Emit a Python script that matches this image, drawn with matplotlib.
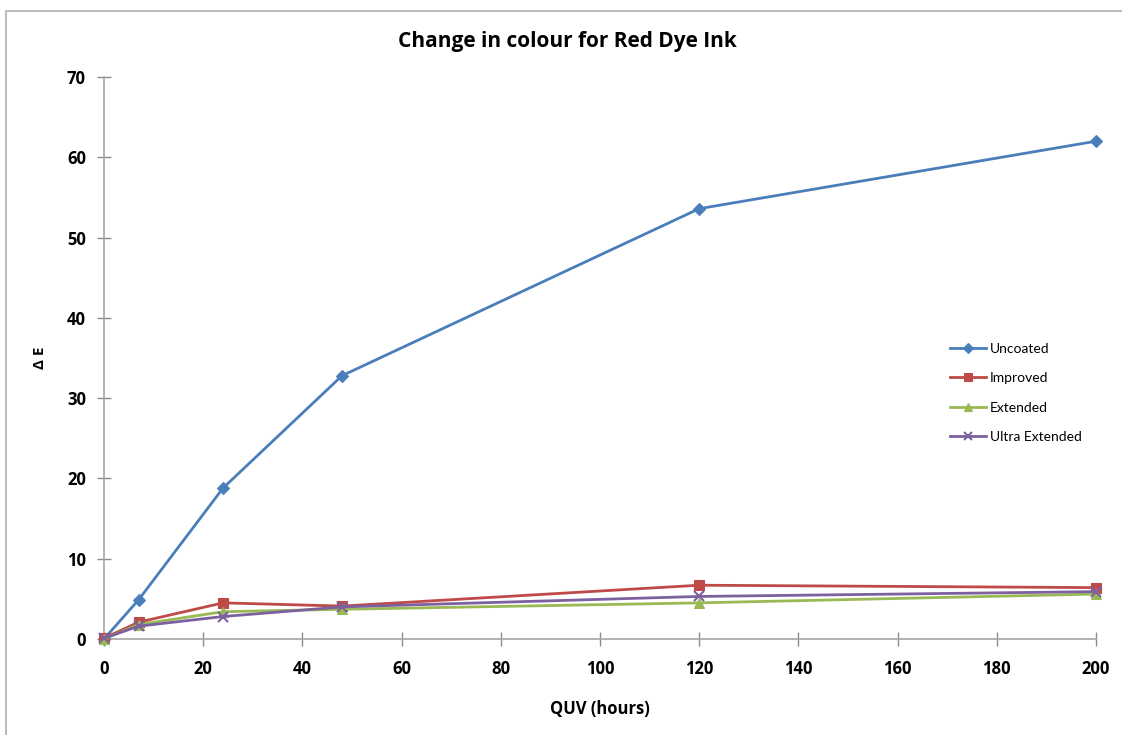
import matplotlib.pyplot as plt
from matplotlib.patches import Rectangle

plt.rcParams['font.family'] = ['Open Sans', 'DejaVu Sans']

# QUV exposure time in hours and colour change for each coating
hours = [0, 7, 24, 48, 120, 200]
uncoated = [0.0, 4.9, 18.8, 32.8, 53.6, 62.0]
improved = [0.1, 2.1, 4.5, 4.1, 6.7, 6.4]
extended = [0.0, 1.8, 3.4, 3.7, 4.5, 5.6]
ultra_extended = [0.1, 1.6, 2.8, 4.0, 5.3, 5.9]

series = [
    ("Uncoated", uncoated, "#4a7ebb", "D", 6),
    ("Improved", improved, "#be4b48", "s", 7),
    ("Extended", extended, "#98b954", "^", 7),
    ("Ultra Extended", ultra_extended, "#7d60a0", "x", 7),
]

fig = plt.figure(figsize=(11.22, 7.35), dpi=100)
ax = fig.add_axes([104 / 1122, 96 / 735, 992 / 1122, 562 / 735])

for name, vals, col, mk, ms in series:
    ax.plot(hours, vals, color=col, lw=2.0, marker=mk, ms=ms,
            mew=1.5 if mk == "x" else 0.8, mec=col, mfc=col,
            label=name, clip_on=False, zorder=3)

ax.set_xlim(0, 200)
ax.set_ylim(0, 70)
ax.set_xticks(range(0, 201, 20))
ax.set_yticks(range(0, 71, 10))

for s in ("top", "right"):
    ax.spines[s].set_visible(False)
for s in ("left", "bottom"):
    ax.spines[s].set_color("#a6a6a6")
    ax.spines[s].set_linewidth(1.2)

ax.tick_params(direction="inout", length=10, width=1.0, color="#8c8c8c",
               labelsize=12, pad=8)
ax.tick_params(axis="x", pad=10)
for lab in ax.get_xticklabels() + ax.get_yticklabels():
    lab.set_fontweight("bold")

ax.set_xlabel("QUV (hours)", fontsize=12, fontweight="bold", labelpad=16)
ax.set_ylabel("Δ E", fontsize=11, fontweight="bold", labelpad=14)
fig.text(567 / 1122, 1 - 42 / 735, "Change in colour for Red Dye Ink",
         ha="center", va="center", fontsize=15, fontweight="bold")

leg = ax.legend(loc="center left", bbox_to_anchor=(833 / 992, 0.438),
                frameon=False, handlelength=2.6,
                labelspacing=1.25, handletextpad=0.3, markerscale=0.8,
                prop={"family": ["Lato", "DejaVu Sans"], "size": 10})

# chart border
fig.patches.append(Rectangle((6 / 1122, -0.05), 1.1, 1.05 - 11 / 735,
                             transform=fig.transFigure, fill=False,
                             edgecolor="#bdbdbd", lw=1.5))

fig.savefig("out.png", dpi=100)
